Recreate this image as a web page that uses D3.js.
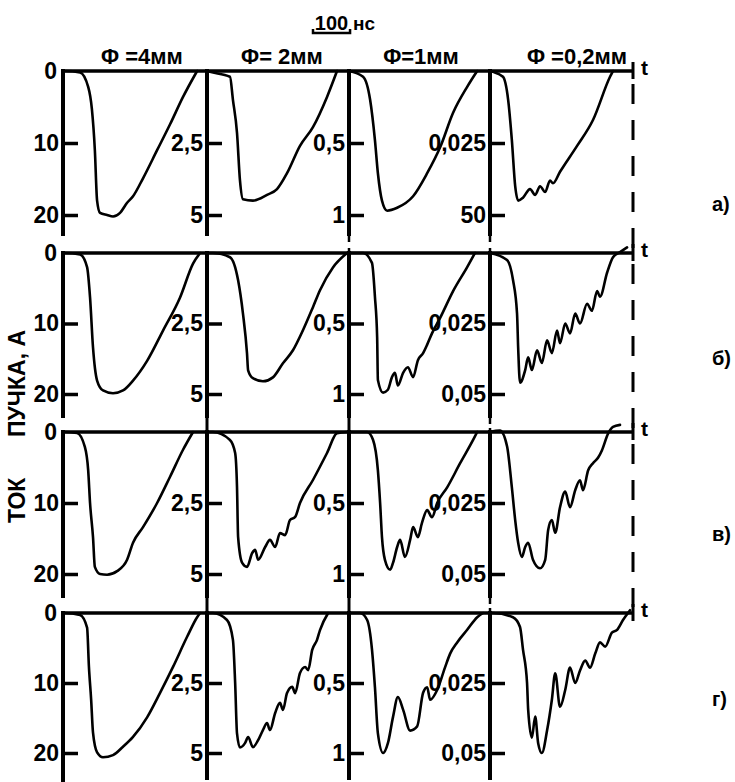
<!DOCTYPE html>
<html><head><meta charset="utf-8">
<script src="https://cdn.jsdelivr.net/npm/d3@7"></script>
<style>
html,body{margin:0;padding:0;background:#fff;}
svg text{font-family:"Liberation Sans",Arial,sans-serif;font-weight:bold;fill:#000;}
</style></head>
<body>
<svg id="chart" width="735" height="782"></svg>
<script>
// ---- data ----
const rowLabels = ["а)", "б)", "в)", "г)"];
const colTitles = ["Φ =4мм", "Φ= 2мм", "Φ=1мм", "Φ =0,2мм"];
const tickValues = [[10, 20], [2.5, 5], [0.5, 1], [0.025, 0.05]];
const tickLabelsCol = [["10", "20"], ["2,5", "5"], ["0,5", "1"], ["0,025", "0,05"]];
const tickLabelsA4 = ["0,025", "50"];
const zeroLabel = "0";
const scaleBarNs = 100;
const scaleBarLabel = ["100", "нс"];
const axisLabelParts = ["ТОК", "ПУЧКА, А"];
const timeLabel = "t";
const tMaxNs = 386;

// time (ns) and beam current (A)
const a1_t = [0,5,46,68,78,86,92,100,119,135,154,173,189,216,254,289,324,362];
const a1_i = [0,0,0.2,2.2,5.3,11,18,19.7,20,20.2,19.7,18.3,17.4,14.9,11,7.4,3.6,0];
const a2_t = [0,8,62,70,81,89,97,124,162,189,216,251,286,324,351];
const a2_i = [0,0.03,0.2,1.0,2.15,3.8,4.45,4.5,4.3,4.1,3.55,2.6,1.95,0.9,0];
const a3_t = [0,38,57,70,78,89,103,130,173,211,246,281,319,346];
const a3_i = [0,0.04,0.2,0.48,0.71,0.9,0.97,0.95,0.87,0.71,0.53,0.29,0.11,0];
const a4_t = [0,8,35,49,59,68,76,89,108,122,135,149,162,170,189,235,278,324,332];
const a4_i = [0,0.0003,0.002,0.01,0.024,0.04,0.045,0.044,0.041,0.043,0.04,0.042,0.038,0.039,0.035,0.026,0.017,0.002,0];

const b1_t = [0,5,46,65,73,81,92,108,135,162,189,227,270,316,351,370];
const b1_i = [0,0,0.2,2.0,6.3,13.4,18.1,19.5,19.9,19.5,18.1,15.3,11.0,6.3,1.5,0];
const b2_t = [0,16,62,84,97,108,111,124,151,178,205,232,259,286,305,340,378];
const b2_i = [0,0,0.15,0.97,2.14,3.56,4.16,4.44,4.55,4.41,3.91,3.45,2.74,1.92,1.32,0.51,0];
const b3_t = [0,38,62,70,76,78,92,105,116,124,132,146,159,173,186,200,211,224,246,281,319,340];
const b3_i = [0,0,0.07,0.31,0.6,0.9,0.99,0.97,0.88,0.85,0.94,0.85,0.81,0.88,0.76,0.71,0.65,0.57,0.46,0.27,0.1,0];
const b4_t = [0,46,62,73,76,81,95,103,113,127,140,154,167,181,189,203,216,230,243,262,275,289,297,316,332,351,370];
const b4_i = [0,0.0025,0.0095,0.0215,0.0335,0.046,0.0415,0.037,0.0415,0.0345,0.039,0.031,0.0355,0.0275,0.032,0.025,0.0285,0.0215,0.025,0.018,0.0205,0.0135,0.0155,0.007,0.0015,-0.0003,-0.002];

const c1_t = [0,5,38,59,68,73,81,86,100,119,146,173,189,216,254,289,324,351];
const c1_i = [0,0,0.14,2.1,5.4,10,14.8,19,20,20.1,19.6,18,15.6,13.4,10,6.3,2.5,0];
const c2_t = [0,16,62,76,81,84,95,108,122,130,138,157,170,184,197,211,224,238,251,286,324,351,378];
const c2_i = [0,0,0.28,0.74,1.94,3.7,4.61,4.75,4.26,4.15,4.5,4.05,3.8,4.05,3.56,3.63,3.1,2.99,2.5,1.69,0.74,0.04,0];
const c3_t = [0,49,65,78,84,89,97,111,119,130,138,151,165,173,186,197,211,224,238,265,300,335,346];
const c3_i = [0,0,0.056,0.27,0.5,0.74,0.9,0.97,0.92,0.81,0.76,0.88,0.76,0.67,0.74,0.64,0.55,0.6,0.5,0.39,0.22,0.056,0];
const c4_t = [0,27,46,59,68,76,86,95,103,116,135,149,157,167,176,189,203,216,230,243,251,265,278,292,302,319,332,351];
const c4_i = [0,-0.0005,0.005,0.0195,0.031,0.039,0.044,0.0405,0.039,0.045,0.048,0.045,0.0345,0.031,0.0355,0.0265,0.021,0.0265,0.0205,0.017,0.0205,0.0135,0.011,0.009,0.0065,0.0005,-0.0018,-0.0025];

const d1_t = [0,5,46,65,70,76,81,92,108,135,162,189,227,262,297,335,362,370];
const d1_i = [0,0,0.3,2.1,7.7,12.4,17.1,19.9,20.6,20.3,19.1,17.7,14.9,11.4,7.7,3.4,0.6,0];
const d2_t = [0,16,54,70,76,81,89,103,111,124,138,151,162,170,184,197,205,216,230,238,251,265,273,284,297,305,327];
const d2_i = [0,0,0.25,0.96,2.5,4.3,4.8,4.64,4.43,4.79,4.54,4.18,3.93,4.18,3.57,3.21,3.46,2.86,2.64,2.86,2.14,1.93,2.04,1.32,0.96,0.61,0];
const d3_t = [0,30,49,62,70,78,92,105,119,132,146,165,184,200,211,219,238,259,273,292,319,346,362];
const d3_i = [0,0,0.05,0.26,0.53,0.86,1.0,0.93,0.74,0.6,0.69,0.84,0.81,0.57,0.53,0.62,0.55,0.39,0.29,0.21,0.12,0.03,0];
const d4_t = [0,8,62,81,89,100,103,113,122,130,140,154,167,176,189,203,216,230,243,257,270,284,297,311,329,343,359,378];
const d4_i = [0,0,0.0015,0.005,0.013,0.025,0.0345,0.0445,0.037,0.0465,0.05,0.042,0.031,0.0215,0.0335,0.0275,0.0195,0.025,0.0205,0.017,0.0195,0.0145,0.0105,0.012,0.007,0.006,0.0025,-0.001];

const traces = [
  [[a1_t,a1_i],[a2_t,a2_i],[a3_t,a3_i],[a4_t,a4_i]],
  [[b1_t,b1_i],[b2_t,b2_i],[b3_t,b3_i],[b4_t,b4_i]],
  [[c1_t,c1_i],[c2_t,c2_i],[c3_t,c3_i],[c4_t,c4_i]],
  [[d1_t,d1_i],[d2_t,d2_i],[d3_t,d3_i],[d4_t,d4_i]]
];

// ---- layout ----
const axisX = [63, 207, 349, 490];
const panelW = 143;
const rightX = 633;
const zeroY = [71, 253, 432, 613];
const fullY = [215, 394, 574, 753];
const axisBottom = [236, 418, 598, 780];
const FONT = 23;

const svg = d3.select("#chart");
const g = svg.append("g");

// top scale bar (100 ns)
const xBar = d3.scaleLinear().domain([0, tMaxNs]).range([0, panelW]);
const barX0 = 313, barY = 33;
const barLen = xBar(scaleBarNs) - xBar(0);
g.append("path").attr("d", `M${barX0},${barY-4}V${barY}H${barX0+barLen}V${barY-4}`)
  .attr("fill","none").attr("stroke","#000").attr("stroke-width",2.5);
g.append("text").attr("x", barX0 + barLen/2).attr("y", barY - 3).attr("text-anchor","middle")
  .attr("font-size", 20).text(scaleBarLabel[0]);
g.append("text").attr("x", barX0 + barLen + 3).attr("y", barY - 3)
  .attr("font-size", 19).text(scaleBarLabel[1]);

// column titles
const titleCx = [142, 282, 421, 577];
colTitles.forEach((t, c) => {
  g.append("text").attr("x", titleCx[c]).attr("y", 64).attr("text-anchor","middle")
    .attr("font-size", 22).text(t);
});

// y axis label (rotated)
g.append("text").attr("transform","translate(25,523) rotate(-90)")
  .attr("font-size", FONT).text(axisLabelParts[0]);
g.append("text").attr("transform","translate(25,437) rotate(-90)")
  .attr("font-size", FONT).text(axisLabelParts[1]);

// right dashed line
g.append("line").attr("x1", rightX).attr("x2", rightX).attr("y1", 84).attr("y2", zeroY[3]-6)
  .attr("stroke","#000").attr("stroke-width",3).attr("stroke-dasharray","20,16");

const line = d3.line().curve(d3.curveMonotoneX);

rowLabels.forEach((lab, r) => {
  // zero (time) line
  g.append("line").attr("x1", axisX[0]-2).attr("x2", rightX).attr("y1", zeroY[r]).attr("y2", zeroY[r])
    .attr("stroke","#000").attr("stroke-width",3.5);
  g.append("line").attr("x1", rightX).attr("x2", rightX).attr("y1", zeroY[r]-9).attr("y2", zeroY[r]+8)
    .attr("stroke","#000").attr("stroke-width",3);
  g.append("text").attr("x", rightX + 8).attr("y", zeroY[r] + 4).attr("font-size", FONT - 2).text(timeLabel);
  // row label
  const labY = [211, 365, 541, 706][r];
  g.append("text").attr("x", 712).attr("y", labY).attr("font-size", 20)
    .style("font-weight","600").text(lab);
  // zero label
  g.append("text").attr("x", axisX[0] - 6).attr("y", zeroY[r]).attr("dy","0.36em")
    .attr("text-anchor","end").attr("font-size", FONT).text(zeroLabel);

  for (let c = 0; c < 4; c++) {
    const x = d3.scaleLinear().domain([0, tMaxNs]).range([axisX[c], axisX[c] + panelW]);
    const y = d3.scaleLinear().domain([0, tickValues[c][1]]).range([zeroY[r], fullY[r]]);
    const labels = (r === 0 && c === 3) ? tickLabelsA4 : tickLabelsCol[c];

    // vertical axis
    let bottom = axisBottom[r];
    if (r === 3 && c === 0) bottom = 782;
    g.append("line").attr("x1", axisX[c]).attr("x2", axisX[c]).attr("y1", zeroY[r]-2).attr("y2", bottom)
      .attr("stroke","#000").attr("stroke-width",4);
    if ((r === 1 || r === 2) && c > 0) {
      g.append("line").attr("x1", axisX[c]).attr("x2", axisX[c]).attr("y1", bottom).attr("y2", zeroY[r+1])
        .attr("stroke","#000").attr("stroke-width", c === 3 ? 2.5 : 3)
        .attr("stroke-dasharray", c === 3 ? "6,4" : null);
    }
    if (r === 0 && c > 1) {
      g.append("line").attr("x1", axisX[c]).attr("x2", axisX[c]).attr("y1", bottom).attr("y2", zeroY[1])
        .attr("stroke","#000").attr("stroke-width",2.5).attr("stroke-dasharray","6,6");
    }

    // ticks to the right
    const tickAx = d3.axisRight(y).tickValues(tickValues[c]).tickSize(15).tickSizeOuter(0).tickFormat("");
    const ta = g.append("g").attr("transform", `translate(${axisX[c]},0)`).call(tickAx);
    ta.select(".domain").remove();
    ta.selectAll(".tick line").attr("stroke","#000").attr("stroke-width",3.5);

    // labels to the left
    const labAx = d3.axisLeft(y).tickValues(tickValues[c]).tickSize(0).tickPadding(4)
      .tickFormat((d, i) => labels[i]);
    const la = g.append("g").attr("transform", `translate(${axisX[c]},0)`).call(labAx);
    la.select(".domain").remove();
    la.selectAll(".tick text").attr("font-size", FONT).attr("font-family", null)
      .style("font-family","'Liberation Sans',Arial,sans-serif").style("font-weight","bold").attr("fill","#000");

    // trace
    const [ts, is] = traces[r][c];
    const pts = ts.map((t, k) => [x(t), y(is[k])]);
    g.append("path").attr("d", line(pts)).attr("fill","none").attr("stroke","#000")
      .attr("stroke-width",2.6).attr("stroke-linejoin","round").attr("stroke-linecap","round");
  }
});
</script>
</body></html>
